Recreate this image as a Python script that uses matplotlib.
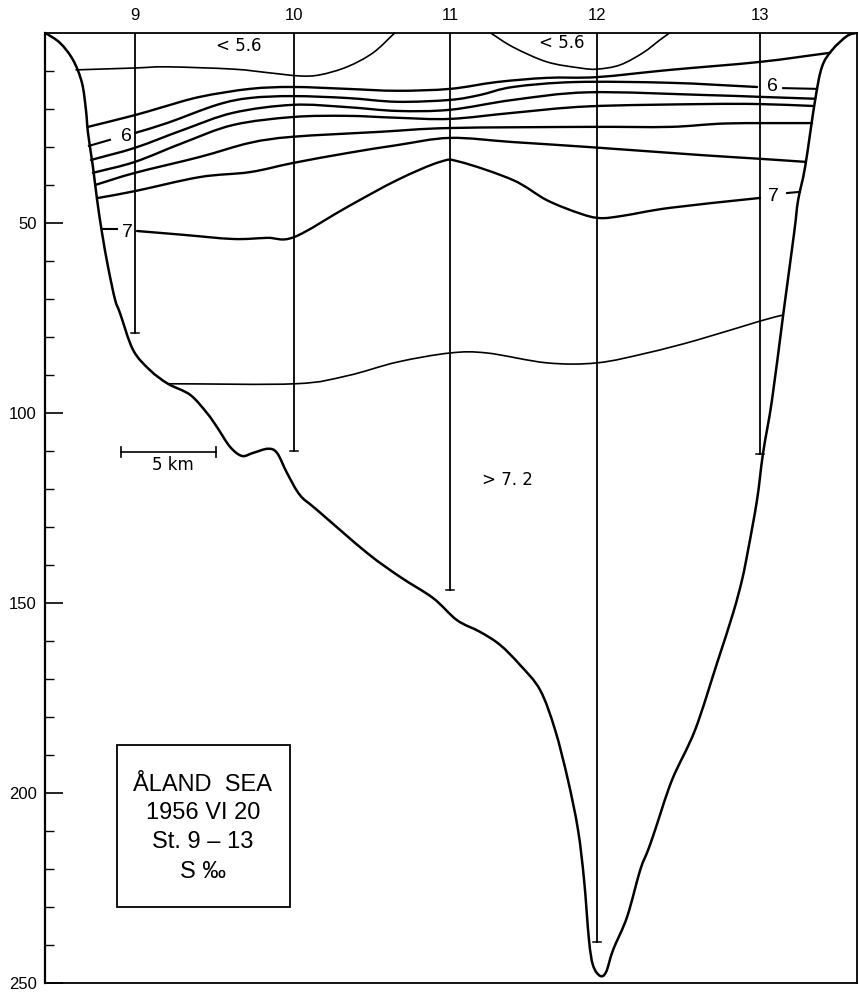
import numpy as np
import matplotlib
matplotlib.use("Agg")
import matplotlib.pyplot as plt
from matplotlib.path import Path
from matplotlib.patches import PathPatch, Rectangle

plt.rcParams['font.family'] = ['Liberation Sans', 'DejaVu Sans']

# stations (distance km, depth of cast m)
stations = ['9', '10', '11', '12', '13']
station_x = [4.75, 13.15, 21.38, 29.15, 37.75]
station_depth = [79, 110, 146.7, 239.2, 111]

# bottom profile
bottom_x = [0, 0.79, 1.48, 1.95, 2.16, 2.27, 2.53, 2.75, 3.01, 3.33, 3.70, 3.96, 4.65,
            5.54, 6.49, 7.66, 8.55, 9.08, 9.77, 10.40, 10.98, 11.77, 12.25, 12.78,
            13.46, 14.36, 17.00, 18.74, 20.49, 21.75, 22.97, 24.02, 25.08, 26.14,
            26.93, 27.61, 28.14, 28.46, 28.72, 28.93, 29.30, 29.62, 29.99, 30.73,
            31.42, 31.84, 32.21, 33.10, 34.32, 35.48, 36.33, 36.80, 37.12, 37.59,
            37.91, 38.38, 38.97, 39.55, 39.76, 40.13, 40.66, 41.02, 41.55, 42.34, 42.87]
bottom_y = [0, 2.7, 7.2, 13.2, 20.3, 26.4, 35.3, 44.0, 52.7, 61.7, 70.3, 73.8, 83.5,
            88.8, 92.4, 95.3, 100.1, 103.8, 109.0, 111.4, 110.6, 109.5, 110.6, 115.9,
            121.7, 125.6, 136.9, 143.2, 148.8, 154.6, 157.7, 161.1, 166.4, 173.0,
            183.5, 196.7, 209.8, 223.0, 238.8, 245.4, 248.2, 247.2, 241.4, 232.7,
            220.4, 215.1, 209.8, 196.7, 183.5, 165.9, 152.7, 144.0, 136.1, 123.0,
            110.6, 96.7, 74.3, 52.7, 44.1, 35.3, 17.7, 9.0, 4.6, 0.9, 0]

# isohalines S ‰
s56_x = [1.64, 4.75, 6.44, 9.93, 11.88, 13.46, 14.52, 15.95, 17.32, 18.48]
s56_y = [9.8, 9.3, 9.0, 9.6, 10.6, 11.4, 11.1, 9.0, 5.3, 0]
s56b_x = [23.50, 24.71, 26.50, 28.25, 29.15, 30.36, 31.57, 32.47, 33.00]
s56b_y = [0, 3.8, 7.7, 9.3, 9.6, 8.5, 5.3, 1.9, 0]
s58_x = [2.27, 4.75, 6.07, 8.18, 10.82, 13.09, 15.95, 18.59, 21.38, 23.86, 26.50,
         29.15, 33.00, 37.75, 41.45]
s58_y = [24.8, 21.7, 19.8, 16.9, 14.8, 14.3, 14.8, 15.3, 14.8, 13.0, 11.9, 11.7,
         9.8, 7.7, 5.3]
s60_x = [4.75, 6.44, 9.08, 10.82, 13.09, 15.95, 18.59, 21.38, 22.97, 24.71, 28.0,
         33.00, 37.59]
s60_y = [26.4, 23.8, 19.0, 17.2, 16.7, 17.2, 18.2, 17.7, 16.4, 14.3, 13.0,
         13.2, 14.3]
s62_x = [2.43, 4.75, 7.29, 9.93, 13.09, 15.95, 18.59, 21.38, 24.71, 28.7,
         34.74, 37.75, 40.66]
s62_y = [33.5, 30.3, 25.6, 21.1, 19.0, 19.6, 20.6, 20.3, 17.7, 15.7, 16.4,
         16.9, 17.4]
s64_x = [2.53, 4.75, 7.29, 9.93, 13.09, 15.95, 18.59, 21.38, 24.71, 28.7,
         34.74, 37.75, 40.55]
s64_y = [36.9, 34.0, 29.0, 24.3, 22.2, 21.9, 22.4, 22.7, 21.1, 19.4, 18.8,
         18.8, 19.3]
s66_x = [2.64, 4.75, 8.18, 10.82, 13.09, 17.69, 21.38, 28.7, 33.00, 36.0, 40.50]
s66_y = [40.1, 36.9, 32.7, 29.0, 27.4, 26.1, 25.1, 24.8, 24.8, 23.9, 23.8]
s68_x = [2.80, 4.75, 8.18, 10.82, 13.09, 15.95, 18.59, 21.38, 24.71, 28.7,
         34.58, 37.75, 40.13]
s68_y = [43.5, 41.7, 38.0, 36.7, 34.3, 31.7, 29.6, 27.7, 28.8, 30.1, 32.2,
         33.2, 34.0]
s70_x = [4.86, 7.29, 9.93, 11.72, 13.15, 15.95, 18.59, 20.86, 21.91, 24.71, 26.50,
         28.25, 29.30, 30.50, 33.00, 37.75]
s70_y = [52.2, 53.2, 54.3, 54.0, 53.8, 45.9, 38.8, 34.0, 34.0, 38.8, 44.1,
         47.6, 48.8, 48.2, 46.1, 43.5]
s72_x = [6.49, 13.20, 15.95, 18.59, 21.38, 23.34, 26.50, 29.15, 31.78, 34.42, 37.75, 38.97]
s72_y = [92.4, 92.4, 90.3, 86.7, 84.3, 84.3, 86.9, 86.9, 84.3, 80.9, 75.9, 74.3]

# short leader ticks beside the 6 and 7 labels
lead6 = [([2.32, 3.43], [29.8, 28.2]), ([38.97, 40.76], [14.6, 14.8])]
lead7 = [([3.06, 3.80], [51.7, 51.7]), ([39.18, 39.86], [42.2, 41.9])]


def smooth(ax, x, y, lw, z=3):
    # catmull-rom through the points, drawn as cubic bezier segments
    p = np.column_stack([x, y]).astype(float)
    if len(p) < 3:
        ax.plot(x, y, color='black', lw=lw, solid_capstyle='round', zorder=z)
        return
    ext = np.vstack([2 * p[0] - p[1], p, 2 * p[-1] - p[-2]])
    verts = [p[0]]
    codes = [Path.MOVETO]
    for i in range(1, len(ext) - 2):
        p0, p1, p2, p3 = ext[i - 1], ext[i], ext[i + 1], ext[i + 2]
        verts += [p1 + (p2 - p0) / 6, p2 - (p3 - p1) / 6, p2]
        codes += [Path.CURVE4] * 3
    ax.add_patch(PathPatch(Path(verts, codes), fill=False, ec='black', lw=lw,
                           capstyle='round', joinstyle='round', zorder=z))


fig = plt.figure(figsize=(8.59, 9.92), dpi=100)
ax = fig.add_axes([0.0524, 0.0094, 0.9453, 0.9577])
ax.set_xlim(0, 42.87)
ax.set_ylim(250, 0)

for s in ax.spines.values():
    s.set_linewidth(1.3)
ax.spines['left'].set_linewidth(1.6)

ax.yaxis.set_ticks([50, 100, 150, 200, 250])
ax.yaxis.set_ticks(np.arange(10, 250, 10), minor=True)
ax.tick_params(axis='y', which='major', direction='in', length=13, width=1.2,
               labelsize=12, pad=6)
ax.tick_params(axis='y', which='minor', direction='in', length=6.5, width=1.0)
ax.xaxis.tick_top()
ax.set_xticks(station_x)
ax.set_xticklabels(stations)
ax.tick_params(axis='x', length=0, labelsize=12, pad=7)

# station casts
for sx, sd in zip(station_x, station_depth):
    ax.plot([sx, sx], [0, sd], color='black', lw=1.3, zorder=2)
    ax.plot([sx - 0.2, sx + 0.2], [sd, sd], color='black', lw=1.1, zorder=2)

smooth(ax, bottom_x, bottom_y, 1.8)
smooth(ax, s56_x, s56_y, 1.2)
smooth(ax, s56b_x, s56b_y, 1.2)
for xs, ys in [(s58_x, s58_y), (s60_x, s60_y), (s62_x, s62_y), (s64_x, s64_y),
               (s66_x, s66_y), (s68_x, s68_y), (s70_x, s70_y)]:
    smooth(ax, xs, ys, 1.7)
smooth(ax, s72_x, s72_y, 1.2)
for lx, ly in lead6 + lead7:
    ax.plot(lx, ly, color='black', lw=1.5, zorder=3)

small = ['DejaVu Sans']
ax.text(4.28, 27.4, '6', fontsize=14, ha='center', va='center')
ax.text(38.38, 14.3, '6', fontsize=14, ha='center', va='center')
ax.text(4.33, 52.5, '7', fontsize=14, ha='center', va='center')
ax.text(38.44, 43.2, '7', fontsize=14, ha='center', va='center')
ax.text(10.25, 3.5, '< 5.6', fontsize=12, ha='center', va='center', family=small)
ax.text(27.30, 2.7, '< 5.6', fontsize=12, ha='center', va='center', family=small)
ax.text(24.39, 117.7, '> 7. 2', fontsize=12, ha='center', va='center', family=small)

# scale bar
ax.plot([4.01, 9.03], [110.3, 110.3], color='black', lw=1.2)
for bx in (4.01, 9.03):
    ax.plot([bx, bx], [109.0, 111.6], color='black', lw=1.2)
ax.text(6.76, 113.8, '5 km', fontsize=12, ha='center', va='center', family=small)

# title box
ax.add_patch(Rectangle((3.80, 187.4), 9.14, 42.7, fill=False, ec='black', lw=1.3))
for ty, t in zip([198.0, 205.4, 213.0, 220.9],
                 ['ÅLAND  SEA', '1956 VI 20', 'St. 9 – 13', 'S ‰']):
    ax.text(8.34, ty, t, fontsize=17, ha='center', va='center')

fig.savefig('out.png', dpi=100)
